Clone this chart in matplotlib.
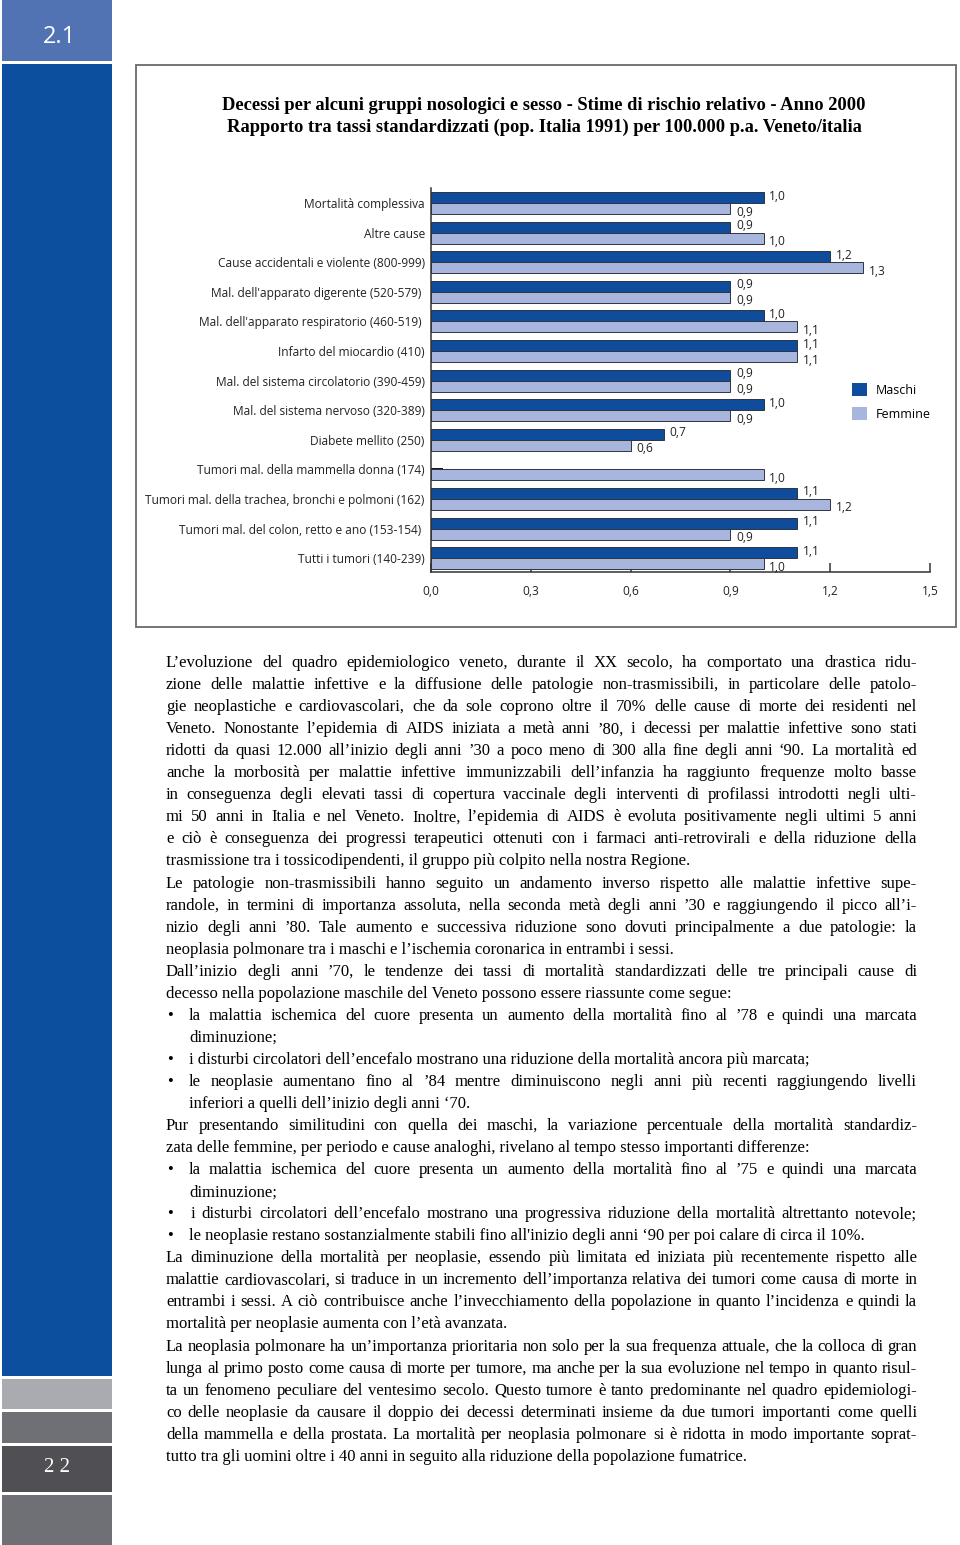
import numpy as np
import matplotlib
matplotlib.use("Agg")
import matplotlib.pyplot as plt
from matplotlib.patches import Rectangle, Patch

# ---- data ----
categories = [
    "Mortalità complessiva",
    "Altre cause",
    "Cause accidentali e violente (800-999)",
    "Mal. dell'apparato digerente (520-579) ",
    "Mal. dell'apparato respiratorio (460-519) ",
    "Infarto del miocardio (410)",
    "Mal. del sistema circolatorio (390-459)",
    "Mal. del sistema nervoso (320-389)",
    "Diabete mellito (250)",
    "Tumori mal. della mammella donna (174)",
    "Tumori mal. della trachea, bronchi e polmoni (162)",
    "Tumori mal. del colon, retto e ano (153-154) ",
    "Tutti i tumori (140-239)",
]
maschi = [1.0, 0.9, 1.2, 0.9, 1.0, 1.1, 0.9, 1.0, 0.7, np.nan, 1.1, 1.1, 1.1]
femmine = [0.9, 1.0, 1.3, 0.9, 1.1, 1.1, 0.9, 0.9, 0.6, 1.0, 1.2, 0.9, 1.0]
xticks = [0.0, 0.3, 0.6, 0.9, 1.2, 1.5]

title1 = "Decessi per alcuni gruppi nosologici e sesso - Stime di rischio relativo - Anno 2000"
title2 = "Rapporto tra tassi standardizzati (pop. Italia 1991) per 100.000 p.a. Veneto/italia"

# body text: (line, justified?, bullet?, indent?)
body = [
    ("L’evoluzione del quadro epidemiologico veneto, durante il XX secolo, ha comportato una drastica ridu-", 1, 0, 0),
    ("zione delle malattie infettive e la diffusione delle patologie non-trasmissibili, in particolare delle patolo-", 1, 0, 0),
    ("gie neoplastiche e cardiovascolari, che da sole coprono oltre il 70% delle cause di morte dei residenti nel", 1, 0, 0),
    ("Veneto.  Nonostante l’epidemia di AIDS iniziata a metà anni ’80, i decessi per malattie infettive sono stati", 1, 0, 0),
    ("ridotti da quasi 12.000 all’inizio degli anni ’30 a poco meno di 300 alla fine degli anni ‘90. La mortalità ed", 1, 0, 0),
    ("anche la morbosità per malattie infettive immunizzabili dell’infanzia ha raggiunto frequenze molto basse", 1, 0, 0),
    ("in conseguenza degli elevati tassi di copertura vaccinale degli interventi di profilassi introdotti negli ulti-", 1, 0, 0),
    ("mi 50 anni in Italia e nel Veneto.  Inoltre, l’epidemia di AIDS è evoluta positivamente negli ultimi 5 anni", 1, 0, 0),
    ("e ciò è conseguenza dei progressi terapeutici ottenuti con i farmaci anti-retrovirali e della riduzione della", 1, 0, 0),
    ("trasmissione tra i tossicodipendenti, il gruppo più colpito nella nostra Regione.", 0, 0, 0),
    ("Le patologie non-trasmissibili hanno seguito un andamento inverso rispetto alle malattie infettive supe-", 1, 0, 0),
    ("randole, in termini di importanza assoluta, nella seconda metà degli anni ’30 e raggiungendo il picco all’i-", 1, 0, 0),
    ("nizio degli anni ’80. Tale aumento e successiva riduzione sono dovuti principalmente a due patologie: la", 1, 0, 0),
    ("neoplasia polmonare tra i maschi e l’ischemia coronarica in entrambi i sessi.", 0, 0, 0),
    ("Dall’inizio degli anni ’70, le tendenze dei tassi di mortalità standardizzati delle tre principali cause di", 1, 0, 0),
    ("decesso nella popolazione maschile del Veneto possono essere riassunte come segue:", 0, 0, 0),
    ("la malattia ischemica del cuore presenta un aumento della mortalità fino al ’78 e quindi una marcata", 1, 1, 1),
    ("diminuzione;", 0, 0, 1),
    ("i disturbi circolatori dell’encefalo mostrano una riduzione della mortalità ancora più marcata;", 0, 1, 1),
    ("le neoplasie aumentano fino al ’84 mentre diminuiscono negli anni più recenti raggiungendo livelli", 1, 1, 1),
    ("inferiori a quelli dell’inizio degli anni ‘70.", 0, 0, 1),
    ("Pur presentando similitudini con quella dei maschi, la variazione percentuale della mortalità standardiz-", 1, 0, 0),
    ("zata delle femmine, per periodo e cause analoghi, rivelano al tempo stesso importanti differenze:", 0, 0, 0),
    ("la malattia ischemica del cuore presenta un aumento della mortalità fino al ’75 e quindi una marcata", 1, 1, 1),
    ("diminuzione;", 0, 0, 1),
    ("i disturbi circolatori dell’encefalo mostrano una progressiva riduzione della mortalità altrettanto notevole;", 1, 1, 1),
    ("le neoplasie restano sostanzialmente stabili fino all'inizio degli anni ‘90 per poi calare di circa il 10%.", 0, 1, 1),
    ("La diminuzione della mortalità per neoplasie, essendo più limitata ed iniziata più recentemente rispetto alle", 1, 0, 0),
    ("malattie cardiovascolari, si traduce in un incremento dell’importanza relativa dei tumori come causa di morte in", 1, 0, 0),
    ("entrambi i sessi.  A ciò contribuisce anche l’invecchiamento della popolazione in quanto l’incidenza e quindi la", 1, 0, 0),
    ("mortalità per neoplasie aumenta con l’età avanzata.", 0, 0, 0),
    ("La neoplasia polmonare ha un’importanza prioritaria non solo per la sua frequenza attuale, che la colloca di gran", 1, 0, 0),
    ("lunga al primo posto come causa di morte per tumore, ma anche per la sua evoluzione nel tempo in quanto risul-", 1, 0, 0),
    ("ta un fenomeno peculiare del ventesimo secolo. Questo tumore è tanto predominante nel quadro epidemiologi-", 1, 0, 0),
    ("co delle neoplasie da causare il doppio dei decessi determinati insieme da due tumori importanti come quelli", 1, 0, 0),
    ("della mammella e della prostata.  La mortalità per neoplasia polmonare si è ridotta in modo importante soprat-", 1, 0, 0),
    ("tutto tra gli uomini oltre i 40 anni in seguito alla riduzione della popolazione fumatrice.", 0, 0, 0),
]

# colours
c_m = "#0f4c9b"
c_f = "#a8b5dc"
c_edge = "#2e3440"
c_side = "#0b4f9e"

W, H = 960, 1545
fig = plt.figure(figsize=(W / 100, H / 100), dpi=100)


def fx(x):
    return x / W


def fy(y):
    return 1 - y / H


def rect(x0, y0, x1, y1, color, **kw):
    fig.add_artist(Rectangle((fx(x0), fy(y1)), (x1 - x0) / W, (y1 - y0) / H,
                             transform=fig.transFigure, facecolor=color, **kw))


# sidebar
rect(2, 0, 112, 61, "#5173b3", edgecolor="none")
rect(2, 64, 112, 1376, c_side, edgecolor="none")
rect(2, 1379, 112, 1409, "#a9abb0", edgecolor="none")
rect(2, 1412, 112, 1443, "#6e7076", edgecolor="none")
rect(2, 1446, 112, 1492, "#505054", edgecolor="none")
rect(2, 1495, 112, 1545, "#6e7076", edgecolor="none")
fig.text(fx(59), fy(37), "2.1", color="white", fontsize=17, family="Open Sans",
         ha="center", va="center")
fig.text(fx(57), fy(1468), "2 2", color="white", fontsize=15, family="Liberation Serif",
         ha="center", va="center")

# chart frame
rect(136, 65, 956, 627, "none", edgecolor="#6a6a6a", linewidth=1.3)

fig.text(fx(544), fy(105), title1, fontsize=13.3, family="Liberation Serif",
         weight="bold", ha="center", va="center")
fig.text(fx(544), fy(127), title2, fontsize=13.3, family="Liberation Serif",
         weight="bold", ha="center", va="center")

# chart
ax = fig.add_axes([fx(431), fy(572), 499 / W, 384 / H])
n = len(categories)
y = np.arange(n)
bh = 0.372
ax.barh(y - bh / 2, maschi, height=bh, color=c_m, edgecolor=c_edge, linewidth=0.7, zorder=2)
ax.barh(y + bh / 2, femmine, height=bh, color=c_f, edgecolor=c_edge, linewidth=0.7, zorder=2)
ax.set_xlim(0, 1.5)
ax.set_ylim(12.47, -0.51)
ax.set_axisbelow(True)

lab_font = dict(family="Open Sans", fontsize=8.6, color="#222222")
for i in range(n):
    for v, dy in ((maschi[i], -bh / 2 - 0.05), (femmine[i], bh / 2 + 0.12)):
        if np.isnan(v):
            continue
        ax.annotate(f"{v:.1f}".replace(".", ","), (v, i + dy), xytext=(4, 0),
                    textcoords="offset points", va="center", ha="left", **lab_font)

ax.set_yticks(y)
ax.set_yticklabels(categories, **lab_font)
ax.set_xticks(xticks)
ax.set_xticklabels([f"{t:.1f}".replace(".", ",") for t in xticks], **lab_font)
ax.tick_params(axis="y", direction="in", length=8.6, width=1.4, color="#111111", pad=4.5)
ax.tick_params(axis="x", direction="in", length=6.5, width=1.1, color="#333333", pad=9.5)
for s in ("top", "right"):
    ax.spines[s].set_visible(False)
for s in ("left", "bottom"):
    ax.spines[s].set_color("#333333")
    ax.spines[s].set_linewidth(1.1)

handles = [Patch(facecolor=c_m, edgecolor="none"), Patch(facecolor=c_f, edgecolor="none")]
ax.legend(handles, ["Maschi", "Femmine"], loc="upper left",
          bbox_to_anchor=(fx(846), fy(377)), bbox_transform=fig.transFigure,
          frameon=False, borderpad=0, handlelength=1.15, handleheight=1.15,
          handletextpad=0.7, labelspacing=0.85, prop=dict(family="Open Sans", size=9))

# body text, justified word by word
renderer = fig.canvas.get_renderer()
body_font = "Liberation Serif"
x_left, x_right = 166, 917
x_ind = 189


def text_w(s, size):
    t = fig.text(0, 0, s, fontsize=size, family=body_font)
    w = t.get_window_extent(renderer).width
    t.remove()
    return w


base = 12.0
scale = 1.0
for line, just, bul, ind in body:
    if not just:
        continue
    words = line.split()
    start = x_ind if ind else x_left
    need = sum(text_w(w, base) for w in words) + 2.2 * (len(words) - 1)
    scale = min(scale, (x_right - start) / need)
fsize = base * scale

y0, dy = 667, 22.05
for k, (line, just, bul, ind) in enumerate(body):
    yb = y0 + k * dy
    start = x_ind if ind else x_left
    if k == 25:
        start = 191
    if bul:
        fig.text(fx(167), fy(yb), "•", fontsize=fsize, family=body_font, va="baseline")
    if not just:
        fig.text(fx(start), fy(yb), line, fontsize=fsize, family=body_font, va="baseline")
        continue
    words = line.split()
    ws = [text_w(w, fsize) for w in words]
    gap = (x_right - start - sum(ws)) / (len(words) - 1)
    xx = start
    for w, wd in zip(words, ws):
        fig.text(fx(xx), fy(yb), w, fontsize=fsize, family=body_font, va="baseline")
        xx += wd + gap

fig.savefig("out.png", dpi=100)
